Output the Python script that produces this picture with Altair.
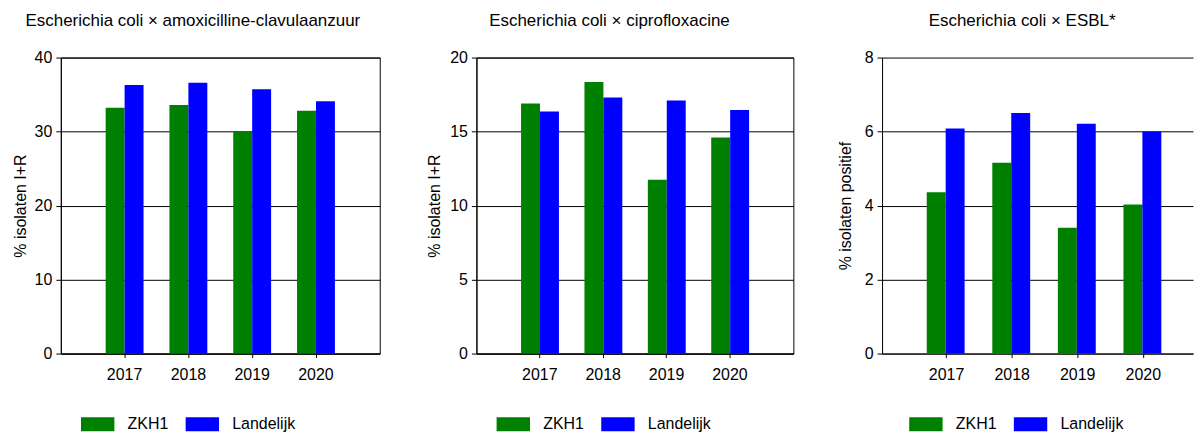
import altair as alt
import pandas as pd

years = ["2017", "2018", "2019", "2020"]
series = ["ZKH1", "Landelijk"]
colors = ["#008000", "#0000ff"]

amox_zkh1 = [33.2, 33.6, 30.0, 32.8]
amox_land = [36.3, 36.6, 35.7, 34.1]
cipro_zkh1 = [16.9, 18.35, 11.75, 14.6]
cipro_land = [16.35, 17.3, 17.1, 16.45]
esbl_zkh1 = [4.36, 5.16, 3.40, 4.03]
esbl_land = [6.08, 6.5, 6.21, 6.0]

titles = [
    "Escherichia coli \u00d7 amoxicilline-clavulaanzuur",
    "Escherichia coli \u00d7 ciprofloxacine",
    "Escherichia coli \u00d7 ESBL*",
]
ytitles = ["% isolaten I+R", "% isolaten I+R", "% isolaten positief"]
yticks = [[0, 10, 20, 30, 40], [0, 5, 10, 15, 20], [0, 2, 4, 6, 8]]

FONT = "Liberation Sans"
PLOT_H = 297


def panel(title, ytitle, zkh, land, ticks, width, xscale, off_pad, legend_x,
          title_x, title_dx, stroke):
    df = pd.DataFrame({
        "jaar": years * 2,
        "bron": [series[0]] * 4 + [series[1]] * 4,
        "waarde": zkh + land,
    })
    return alt.Chart(df).mark_bar().encode(
        x=alt.X("jaar:N", scale=xscale, sort=years,
                axis=alt.Axis(title=None, labelAngle=0, labelFontSize=16,
                              labelFont=FONT, labelColor="#000",
                              tickSize=4, tickColor="#000", labelPadding=9,
                              domainColor="#000", grid=False)),
        xOffset=alt.XOffset("bron:N", sort=series,
                            scale=alt.Scale(paddingInner=0, paddingOuter=off_pad)),
        y=alt.Y("waarde:Q",
                scale=alt.Scale(domain=[ticks[0], ticks[-1]], nice=False),
                axis=alt.Axis(values=ticks, title=ytitle, titleFontSize=16,
                              titleFont=FONT, titleFontWeight="normal",
                              titleColor="#000", titleAngle=-90,
                              titleBaseline="alphabetic", titleAlign="center",
                              titleX=title_x, titleY=PLOT_H / 2,
                              labelFontSize=16, labelFont=FONT,
                              labelColor="#000", labelPadding=4, tickSize=5,
                              tickColor="#000", domainColor="#000",
                              gridColor="#000", gridOpacity=1, gridWidth=1)),
        color=alt.Color("bron:N",
                        scale=alt.Scale(domain=series, range=colors),
                        legend=alt.Legend(title=None, orient="none",
                                          direction="horizontal",
                                          legendX=legend_x, legendY=351,
                                          symbolType="M-1,-0.42H1V0.42H-1Z",
                                          symbolSize=1122, symbolStrokeWidth=0,
                                          symbolOpacity=1,
                                          labelFontSize=16, labelFont=FONT,
                                          labelColor="#000", labelOffset=13,
                                          columnPadding=17, padding=0)),
    ).properties(
        width=width, height=PLOT_H,
        title=alt.TitleParams(title, fontSize=17, font=FONT,
                              fontWeight="normal", color="#000",
                              anchor="middle", frame="group", dx=title_dx,
                              baseline="alphabetic", offset=7),
        view=alt.ViewBackground(stroke=stroke, strokeWidth=1),
    )


p1 = panel(titles[0], ytitles[0], amox_zkh1, amox_land, yticks[0], 320,
           alt.Scale(paddingInner=0, paddingOuter=0.5), 0.684, 20, -35, -27.5,
           "#000")
p2 = panel(titles[1], ytitles[1], cipro_zkh1, cipro_land, yticks[1], 318,
           alt.Scale(paddingInner=0, paddingOuter=0.5), 0.684, 20, -37, -25.5,
           "#000")
p3 = panel(titles[2], ytitles[2], esbl_zkh1, esbl_land, yticks[2], 312,
           alt.Scale(paddingInner=0, paddingOuter=0.371, align=0.652), 0.645,
           27, -32, -15.5, "transparent")

left = alt.hconcat(p1, p2, spacing=45).resolve_scale(
    color="independent").resolve_legend(color="independent")

chart = alt.hconcat(
    left,
    p3,
    spacing=42,
).resolve_scale(color="independent").resolve_legend(color="independent").properties(
    padding={"left": 4, "top": 2, "right": 0, "bottom": 0},
    background="#ffffff",
)

chart.save("out.html", embed_options={"renderer": "svg", "actions": False})
